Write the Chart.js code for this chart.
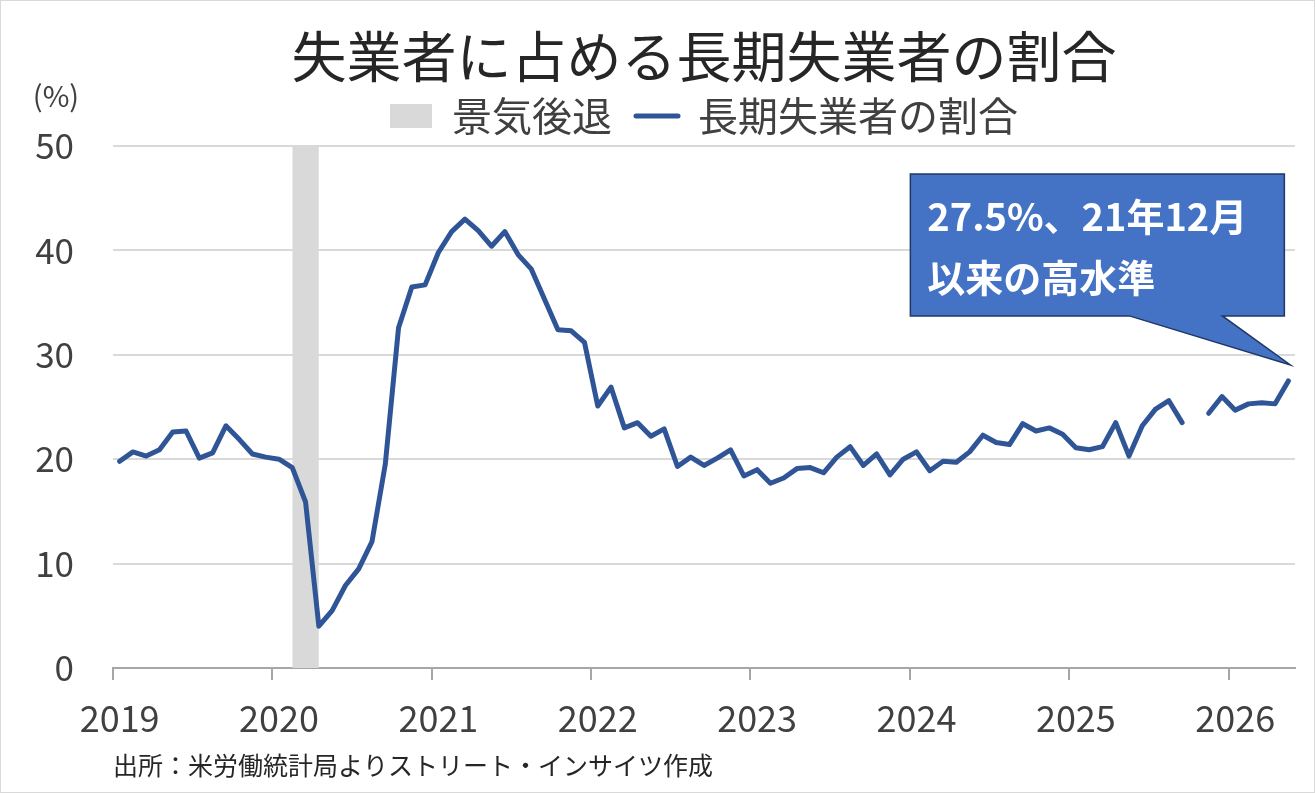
<!DOCTYPE html>
<html>
<head>
<meta charset="utf-8">
<script src="https://cdn.jsdelivr.net/npm/chart.js@4.4.1/dist/chart.umd.min.js"></script>
<style>
  html, body { margin: 0; padding: 0; background: #fff; }
  #chart-box { width: 1313px; height: 791px; border: 1px solid #d9d9d9; }
</style>
</head>
<body>
<div id="chart-box"><canvas id="graph-canvas" width="1313" height="791"></canvas></div>
<script>
// monthly categories, Jan 2019 - May 2026
const months = [
  '2019-01','2019-02','2019-03','2019-04','2019-05','2019-06','2019-07','2019-08','2019-09','2019-10','2019-11','2019-12',
  '2020-01','2020-02','2020-03','2020-04','2020-05','2020-06','2020-07','2020-08','2020-09','2020-10','2020-11','2020-12',
  '2021-01','2021-02','2021-03','2021-04','2021-05','2021-06','2021-07','2021-08','2021-09','2021-10','2021-11','2021-12',
  '2022-01','2022-02','2022-03','2022-04','2022-05','2022-06','2022-07','2022-08','2022-09','2022-10','2022-11','2022-12',
  '2023-01','2023-02','2023-03','2023-04','2023-05','2023-06','2023-07','2023-08','2023-09','2023-10','2023-11','2023-12',
  '2024-01','2024-02','2024-03','2024-04','2024-05','2024-06','2024-07','2024-08','2024-09','2024-10','2024-11','2024-12',
  '2025-01','2025-02','2025-03','2025-04','2025-05','2025-06','2025-07','2025-08','2025-09','2025-10','2025-11','2025-12',
  '2026-01','2026-02','2026-03','2026-04','2026-05'
];

// share of long-term unemployed (%), Oct 2025 not published
const longTermShare = [
  19.8, 20.7, 20.3, 20.9, 22.6, 22.7, 20.1, 20.6, 23.2, 21.9, 20.5, 20.2,
  20.0, 19.2, 15.9, 4.0, 5.5, 7.9, 9.5, 12.1, 19.5, 32.6, 36.5, 36.7,
  39.8, 41.8, 43.0, 41.9, 40.4, 41.8, 39.6, 38.2, 35.3, 32.4, 32.3, 31.2,
  25.1, 26.9, 23.0, 23.5, 22.2, 22.9, 19.3, 20.2, 19.4, 20.1, 20.9, 18.4,
  19.0, 17.7, 18.2, 19.1, 19.2, 18.7, 20.2, 21.2, 19.4, 20.5, 18.5, 20.0,
  20.7, 18.9, 19.8, 19.7, 20.7, 22.3, 21.6, 21.4, 23.4, 22.7, 23.0, 22.4,
  21.1, 20.9, 21.2, 23.5, 20.3, 23.2, 24.8, 25.6, 23.5, null, 24.4, 26.0,
  24.7, 25.3, 25.4, 25.3, 27.5
];

const recessionMonths = ['2020-02', '2020-03', '2020-04'];
const yMax = 50;
const yStep = 10;

const titleText = '失業者に占める長期失業者の割合';
const seriesNames = ['景気後退', '長期失業者の割合'];
const unitLabel = '(%)';
const sourceText = '出所：米労働統計局よりストリート・インサイツ作成';
const calloutLines = ['27.5%、21年12月', '以来の高水準'];

const FONT = "'Noto Sans CJK JP', 'Noto Sans', sans-serif";
Chart.defaults.font.family = FONT;

const recessionData = months.map(m => recessionMonths.includes(m) ? yMax : null);

// "(%)" above the y axis labels
const unitPlugin = {
  id: 'unitLabel',
  afterDraw(chart) {
    const ctx = chart.ctx;
    const area = chart.chartArea;
    ctx.save();
    ctx.font = '29px ' + FONT;
    ctx.fillStyle = '#404040';
    ctx.textAlign = 'center';
    ctx.textBaseline = 'middle';
    ctx.fillText(unitLabel, area.left - 57, area.top - 50);
    ctx.restore();
  }
};

// speech bubble pointing to the latest value
const calloutPlugin = {
  id: 'callout',
  afterDatasetsDraw(chart) {
    const ctx = chart.ctx;
    const last = longTermShare.length - 1;
    const px = chart.scales.x.getPixelForValue(last);
    const py = chart.scales.y.getPixelForValue(longTermShare[last]);
    const tipX = px + 2, tipY = py - 16;
    const right = tipX - 6, bottom = tipY - 49;
    const left = right - 374, top = bottom - 142;

    ctx.save();
    ctx.beginPath();
    ctx.moveTo(left, top);
    ctx.lineTo(right, top);
    ctx.lineTo(right, bottom);
    ctx.lineTo(left + 312, bottom);
    ctx.lineTo(tipX, tipY);
    ctx.lineTo(left + 219, bottom);
    ctx.lineTo(left, bottom);
    ctx.closePath();
    ctx.fillStyle = '#4472c4';
    ctx.fill();
    ctx.lineWidth = 1.5;
    ctx.strokeStyle = '#1f3864';
    ctx.stroke();

    ctx.fillStyle = '#ffffff';
    ctx.font = 'bold 38px ' + FONT;
    ctx.textAlign = 'left';
    ctx.textBaseline = 'middle';
    ctx.fillText(calloutLines[0], left + 17, top + 43);
    ctx.fillText(calloutLines[1], left + 17, top + 104);
    ctx.restore();
  }
};

const data = {
  labels: months,
  datasets: [
    {
      label: seriesNames[0],
      data: recessionData,
      backgroundColor: '#d9d9d9',
      borderWidth: 0,
      pointRadius: 0,
      pointBorderWidth: 0,
      pointStyle: 'rect',
      fill: 'origin',
      order: 2
    },
    {
      label: seriesNames[1],
      data: longTermShare,
      borderColor: '#2f5597',
      backgroundColor: '#2f5597',
      borderWidth: 5,
      borderCapStyle: 'round',
      borderJoinStyle: 'round',
      pointRadius: 0,
      pointBorderWidth: 5,
      pointStyle: 'line',
      spanGaps: false,
      tension: 0,
      order: 1
    }
  ]
};

const config = {
  type: 'line',
  data: data,
  options: {
    responsive: false,
    animation: false,
    events: [],
    layout: { padding: { left: 33, right: 19, top: 8, bottom: 8 } },
    plugins: {
      title: {
        display: true,
        text: titleText,
        fullSize: false,
        color: '#262626',
        font: { size: 55, weight: 'normal', lineHeight: 1.2 },
        padding: { top: 14, bottom: -17 }
      },
      legend: {
        display: true,
        fullSize: false,
        labels: {
          usePointStyle: true,
          pointStyleWidth: 42,
          boxHeight: 24,
          padding: 24,
          color: '#404040',
          font: { size: 40 },
          sort: (a, b) => a.datasetIndex - b.datasetIndex,
          generateLabels: (chart) =>
            Chart.defaults.plugins.legend.labels.generateLabels(chart).map(item => ({ ...item, lineCap: 'round' }))
        }
      },
      subtitle: {
        display: true,
        text: sourceText,
        position: 'bottom',
        align: 'start',
        fullSize: false,
        color: '#262626',
        font: { size: 25, weight: 'normal', lineHeight: 1.2 },
        padding: { top: 6, bottom: 4 }
      },
      tooltip: { enabled: false }
    },
    scales: {
      x: {
        type: 'category',
        offset: true,
        afterFit: (scale) => {
          scale.height = 76;
          scale.paddingLeft = 0;
          scale.paddingRight = 0;
        },
        grid: {
          offset: true,
          drawOnChartArea: false,
          drawTicks: true,
          tickLength: 12,
          lineWidth: 2,
          color: (c) => (months[c.index] || '').endsWith('-01') ? '#a6a6a6' : 'rgba(0,0,0,0)'
        },
        border: { display: true, color: '#a6a6a6', width: 2 },
        ticks: {
          autoSkip: false,
          maxRotation: 0,
          minRotation: 0,
          padding: 17,
          color: '#404040',
          font: { size: 36 }
          ,
          callback: (value, index) => months[index].endsWith('-01') ? months[index].slice(0, 4) : ''
        }
      },
      y: {
        min: 0,
        max: yMax,
        afterFit: (scale) => {
          scale.width = 79;
        },
        grid: { color: '#d9d9d9', lineWidth: 2, drawTicks: false },
        border: { display: false },
        ticks: {
          stepSize: yStep,
          padding: 39,
          color: '#404040',
          font: { size: 35 }
        }
      }
    }
  },
  plugins: [unitPlugin, calloutPlugin]
};

new Chart(document.getElementById('graph-canvas'), config);
</script>
</body>
</html>
